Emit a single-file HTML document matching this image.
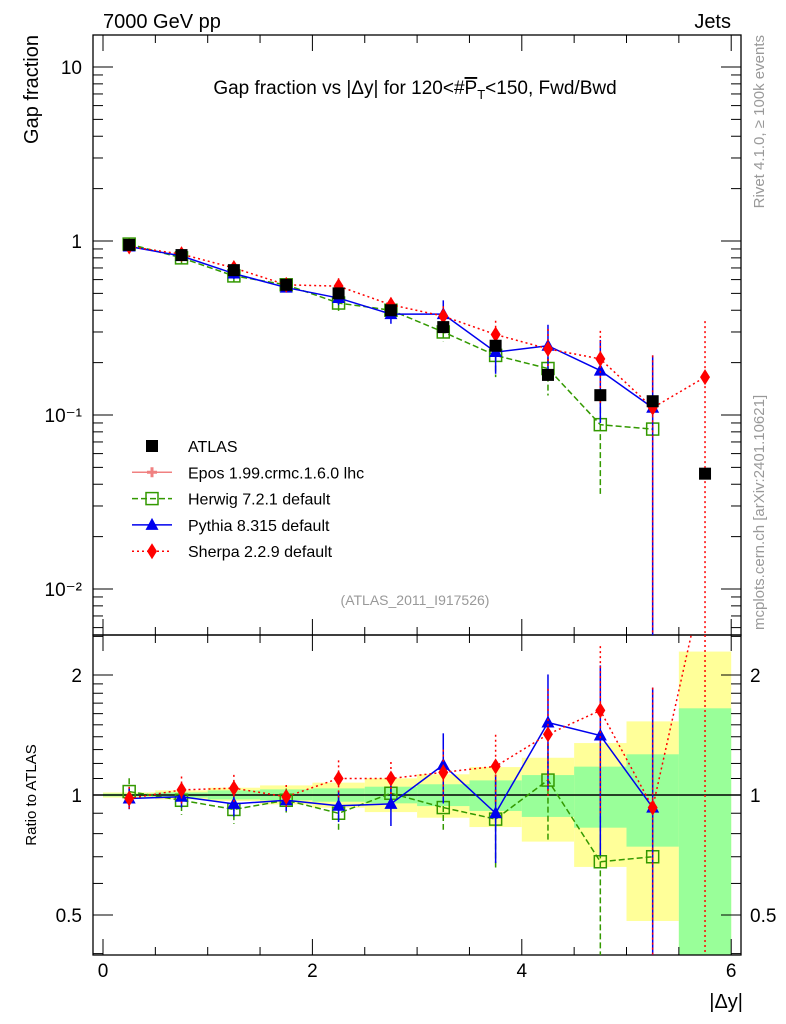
<!DOCTYPE html>
<html><head><meta charset="utf-8"><style>
html,body{margin:0;padding:0;background:#fff;}
svg{display:block;font-family:"Liberation Sans",sans-serif;}
</style></head><body>
<svg id="chart" width="786" height="1024" viewBox="0 0 786 1024" xmlns="http://www.w3.org/2000/svg">
<text x="103" y="28" font-size="20">7000 GeV pp</text>
<text x="731" y="28" font-size="20" text-anchor="end">Jets</text>
<text x="415" y="94" font-size="19" text-anchor="middle">Gap fraction vs |Δy| for 120&lt;#<tspan text-decoration="overline">P</tspan><tspan font-size="13" dy="5">T</tspan><tspan dy="-5">&lt;150, Fwd/Bwd</tspan></text>
<text transform="translate(38,35) rotate(-90)" font-size="20" text-anchor="end">Gap fraction</text>
<text transform="translate(36,795) rotate(-90)" font-size="15" text-anchor="middle">Ratio to ATLAS</text>
<text transform="translate(764,35) rotate(-90)" font-size="15" fill="#999" text-anchor="end">Rivet 4.1.0, ≥ 100k events</text>
<text transform="translate(764,630) rotate(-90)" font-size="15" fill="#999">mcplots.cern.ch [arXiv:2401.10621]</text>
<text x="415" y="605" font-size="14" fill="#999" text-anchor="middle">(ATLAS_2011_I917526)</text>
<text x="743" y="1008" font-size="20" text-anchor="end">|Δy|</text>
<g id="bands"></g><g id="axes"></g><g id="series"></g><g id="legend"></g>
</svg>
<script>
const binCenters=[0.25,0.75,1.25,1.75,2.25,2.75,3.25,3.75,4.25,4.75,5.25,5.75];
const atlasVals=[0.95,0.83,0.68,0.56,0.50,0.40,0.32,0.25,0.17,0.13,0.12,0.046];
const herwigVals=[0.96,0.80,0.63,0.56,0.44,0.40,0.30,0.22,0.185,0.088,0.083];
const pythiaVals=[0.93,0.82,0.65,0.54,0.47,0.38,0.38,0.23,0.25,0.18,0.11];
const sherpaVals=[0.93,0.84,0.70,0.56,0.55,0.43,0.37,0.29,0.24,0.21,0.11,0.165];
const herwigErr=[0.08,0.08,0.08,0.07,0.1,0.1,0.12,0.25,0.3,0.6,0.05];
const pythiaErr=[0.06,0.06,0.07,0.06,0.09,0.12,0.2,0.25,0.32,0.5,1.0];
const sherpaErr=[0.07,0.08,0.08,0.07,0.11,0.1,0.14,0.2,0.3,0.45,1.0,1.1];
const herwigRatio=[1.02,0.97,0.92,0.97,0.90,1.01,0.93,0.87,1.09,0.68,0.70];
const pythiaRatio=[0.98,0.99,0.95,0.97,0.94,0.95,1.19,0.90,1.52,1.41,0.93];
const sherpaRatio=[0.98,1.03,1.04,0.99,1.10,1.10,1.14,1.18,1.42,1.63,0.93,3.6];
const yellowUp=[1.015,1.027,1.043,1.057,1.074,1.101,1.127,1.175,1.24,1.35,1.53,2.29];
const yellowDn=[0.985,0.975,0.966,0.947,0.929,0.906,0.877,0.831,0.764,0.66,0.483,0.3];
const greenUp=[1.008,1.015,1.027,1.033,1.039,1.049,1.064,1.088,1.122,1.178,1.265,1.65];
const greenDn=[0.992,0.985,0.975,0.97,0.962,0.953,0.938,0.912,0.881,0.828,0.742,0.3];
const xTicks=[0,2,4,6];
const mainTicks=[0.01,0.1,1,10];
const mainTickLabels=["10⁻²","10⁻¹","1","10"];
const ratioTicks=[0.5,1,2];
const ratioTickLabels=["0.5","1","2"];

const NS="http://www.w3.org/2000/svg";
const L=93,R=741,T=35,M=635,B=955;
const xs=v=>103+v*104.7;
const ym=v=>241-174*Math.log10(v);
const yr=v=>795-398.6*Math.log10(v);
const clipM=v=>Math.max(T,Math.min(M,v));
const clipR=v=>Math.max(M,Math.min(B,v));
function mk(parent,tag,attrs){const e=document.createElementNS(NS,tag);for(const k in attrs)e.setAttribute(k,attrs[k]);document.getElementById(parent).appendChild(e);return e;}

// bands
binCenters.forEach((c,i)=>{
  let e=mk('bands','rect',{x:xs(c-0.25),width:xs(c+0.25)-xs(c-0.25),y:clipR(yr(yellowUp[i])),height:clipR(yr(yellowDn[i]))-clipR(yr(yellowUp[i])),fill:'#ffff99'});
  
  
});
binCenters.forEach((c,i)=>{
  let e=mk('bands','rect',{x:xs(c-0.25),width:xs(c+0.25)-xs(c-0.25),y:clipR(yr(greenUp[i])),height:clipR(yr(greenDn[i]))-clipR(yr(greenUp[i])),fill:'#99ff99'});
  
  
});
// ratio unity line
let one=mk('axes','line',{x1:L,x2:R,y1:yr(1),y2:yr(1),stroke:'#000','stroke-width':1.5});



// frames
[[T,M],[M,B]].forEach(([a,b],k)=>{
  let f=mk('axes','rect',{x:L,y:a,width:R-L,height:b-a,fill:'none',stroke:'#000','stroke-width':1.3});
  
  
  for(let v=0;v<=6.01;v+=0.5){
    const maj=Math.abs(v/2-Math.round(v/2))<1e-6, len=maj?16:8;
    mk('axes','line',{x1:xs(v),x2:xs(v),y1:b,y2:b-len,stroke:'#000'});
    mk('axes','line',{x1:xs(v),x2:xs(v),y1:a,y2:a+len,stroke:'#000'});
  }
});
xTicks.forEach(v=>{let t=mk('axes','text',{x:xs(v),y:977,'font-size':19,'text-anchor':'middle'});t.textContent=v;
  });
// main y ticks
for(let d=-3;d<=1;d++)for(let m=1;m<10;m++){const v=m*Math.pow(10,d);const y=ym(v);if(y<T||y>M)continue;
  const len=m===1?20:10;
  mk('axes','line',{x1:L,x2:L+len,y1:y,y2:y,stroke:'#000'});
  mk('axes','line',{x1:R,x2:R-len,y1:y,y2:y,stroke:'#000'});}
mainTicks.forEach((v,i)=>{let t=mk('axes','text',{x:82,y:ym(v)+7,'font-size':19,'text-anchor':'end'});t.textContent=mainTickLabels[i];
  });
// ratio y ticks
[0.4,0.5,0.6,0.7,0.8,0.9,1,1.1,1.2,1.3,1.4,1.5,1.6,1.7,1.8,1.9,2,2.5].forEach(v=>{const y=yr(v);if(y<M||y>B)return;
  const len=(v===0.5||v===1||v===2)?20:10;
  mk('axes','line',{x1:L,x2:L+len,y1:y,y2:y,stroke:'#000'});
  mk('axes','line',{x1:R,x2:R-len,y1:y,y2:y,stroke:'#000'});});
ratioTicks.forEach((v,i)=>{
  let t=mk('axes','text',{x:82,y:yr(v)+7,'font-size':19,'text-anchor':'end'});t.textContent=ratioTickLabels[i];
  
  let t2=mk('axes','text',{x:750,y:yr(v)+7,'font-size':19});t2.textContent=ratioTickLabels[i];
  });

function marker(g,type,x,y,color){
  let e;
  if(type==='sq') e=mk(g,'rect',{x:x-6,y:y-6,width:12,height:12,fill:'#000'});
  else if(type==='osq') e=mk(g,'rect',{x:x-6,y:y-6,width:12,height:12,fill:'none',stroke:color,'stroke-width':1.5});
  else if(type==='tri') e=mk(g,'polygon',{points:`${x},${y-7} ${x-6.5},${y+5} ${x+6.5},${y+5}`,fill:color});
  else if(type==='dia') e=mk(g,'polygon',{points:`${x},${y-8} ${x-5},${y} ${x},${y+8} ${x+5},${y}`,fill:color});
  else if(type==='cross') e=mk(g,'path',{d:`M${x-5},${y}h10M${x},${y-5}v10`,stroke:color,'stroke-width':3});
  return e;
}
function drawSeries(name,vals,err,ratio,color,dash,type){
  const pm=vals.map((v,i)=>xs(binCenters[i])+','+ym(v)).join(' ');
  let l=mk('series','polyline',{points:pm,fill:'none',stroke:color,'stroke-width':1.5,'stroke-dasharray':dash});
  
  
  const pr=ratio.map((v,i)=>xs(binCenters[i])+','+yr(v)).join(' ');
  let lr=mk('series','polyline',{points:pr,fill:'none',stroke:color,'stroke-width':1.5,'stroke-dasharray':dash,'clip-path':'url(#rclip)'});
  
  
  vals.forEach((v,i)=>{
    const x=xs(binCenters[i]);
    const up=v*(1+err[i]), dn=Math.max(v*(1-err[i]),1e-4);
    mk('series','line',{x1:x,x2:x,y1:clipM(ym(up)),y2:clipM(ym(dn)),stroke:color,'stroke-width':1.5,'stroke-dasharray':dash});
    const r=ratio[i],ru=r*(1+err[i]),rd=Math.max(r*(1-err[i]),1e-4);
    mk('series','line',{x1:x,x2:x,y1:clipR(yr(ru)),y2:clipR(yr(rd)),stroke:color,'stroke-width':1.5,'stroke-dasharray':dash});
    let m=marker('series',type,x,ym(v),color);
    
    
    if(yr(r)>=M&&yr(r)<=B){let m2=marker('series',type,x,yr(r),color);
      
      }
  });
}
mk('axes','clipPath',{id:'rclip'});
document.getElementById('rclip').appendChild(Object.assign(document.createElementNS(NS,'rect'),{}));
document.querySelector('#rclip rect').setAttribute('x',L);document.querySelector('#rclip rect').setAttribute('y',M);
document.querySelector('#rclip rect').setAttribute('width',R-L);document.querySelector('#rclip rect').setAttribute('height',B-M);

drawSeries('herwig',herwigVals,herwigErr,herwigRatio,'#339900','6,3','osq');
drawSeries('pythia',pythiaVals,pythiaErr,pythiaRatio,'#0000ee','','tri');
drawSeries('sherpa',sherpaVals,sherpaErr,sherpaRatio,'#ff0000','2,3','dia');
atlasVals.forEach((v,i)=>{let m=marker('series','sq',xs(binCenters[i]),ym(v),'#000');
  
  });

// legend
const legNames=['ATLAS','Epos 1.99.crmc.1.6.0 lhc','Herwig 7.2.1 default','Pythia 8.315 default','Sherpa 2.2.9 default'];
const legColors=['#000','#f08080','#339900','#0000ee','#ff0000'];
const legTypes=['sq','cross','osq','tri','dia'];
const legDash=['','','6,3','','2,3'];
legNames.forEach((n,i)=>{
  const y=446+i*26.3;
  if(i>0){mk('legend','line',{x1:132,x2:172,y1:y,y2:y,stroke:legColors[i],'stroke-width':1.5,'stroke-dasharray':legDash[i]});}
  marker('legend',legTypes[i],152,y,legColors[i]);
  let t=mk('legend','text',{x:188,y:y+6,'font-size':16});t.textContent=n;
  
  
});
</script>
</body></html>
